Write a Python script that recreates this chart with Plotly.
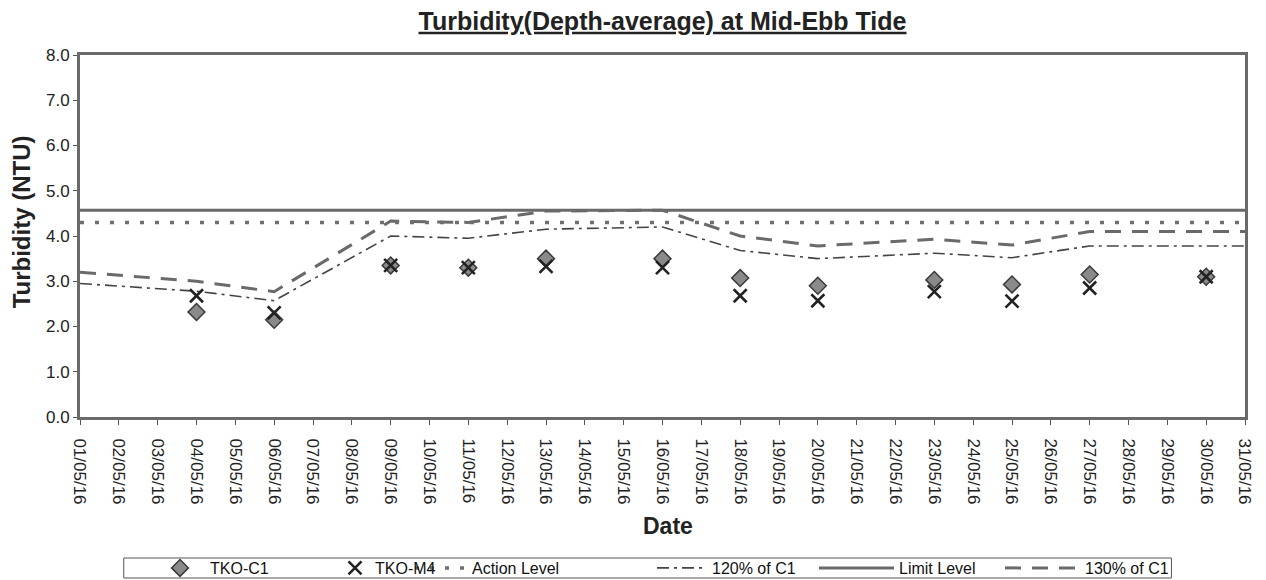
import plotly.graph_objects as go

# ---- data ----
obs_dates = ["2016-05-04", "2016-05-06", "2016-05-09", "2016-05-11", "2016-05-13", "2016-05-16",
             "2016-05-18", "2016-05-20", "2016-05-23", "2016-05-25", "2016-05-27", "2016-05-30"]
tko_c1 = [2.32, 2.15, 3.35, 3.30, 3.50, 3.50, 3.07, 2.90, 3.03, 2.93, 3.15, 3.10]
tko_m4 = [2.68, 2.30, 3.35, 3.30, 3.33, 3.30, 2.68, 2.57, 2.77, 2.56, 2.85, 3.10]

line_dates = ["2016-05-01"] + obs_dates + ["2016-05-31"]
pct120_c1 = [2.95, 2.78, 2.57, 4.00, 3.95, 4.15, 4.20, 3.68, 3.50, 3.62, 3.52, 3.78, 3.78, 3.78]
pct130_c1 = [3.20, 3.00, 2.77, 4.33, 4.30, 4.55, 4.57, 4.00, 3.78, 3.93, 3.80, 4.10, 4.10, 4.10]

level_dates = ["2016-05-01", "2016-05-31"]
action_level = [4.3, 4.3]
limit_level = [4.57, 4.57]

title_text = "Turbidity(Depth-average) at Mid-Ebb Tide"
y_title = "Turbidity (NTU)"
x_title = "Date"

FONT = "Liberation Sans, Arial, sans-serif"

fig = go.Figure()

fig.add_trace(go.Scatter(
    x=line_dates, y=pct120_c1, mode="lines", name="120% of C1", legend="legend4",
    line=dict(color="#444444", width=1.6, dash="12px,5px,3px,5px")))
fig.add_trace(go.Scatter(
    x=line_dates, y=pct130_c1, mode="lines", name="130% of C1", legend="legend6",
    line=dict(color="#6a6a6a", width=3, dash="16px,11px")))
fig.add_trace(go.Scatter(
    x=level_dates, y=action_level, mode="lines", name="Action Level", legend="legend3",
    line=dict(color="#6f6f6f", width=3.5, dash="4px,11px")))
fig.add_trace(go.Scatter(
    x=level_dates, y=limit_level, mode="lines", name="Limit Level", legend="legend5",
    line=dict(color="#6a6a6a", width=3)))
fig.add_trace(go.Scatter(
    x=obs_dates, y=tko_c1, mode="markers", name="TKO-C1", legend="legend", showlegend=True,
    marker=dict(symbol="diamond", size=13, color="#8a8a8a", line=dict(color="#3a3a3a", width=1.5))))
fig.add_trace(go.Scatter(
    x=obs_dates, y=tko_m4, mode="markers", name="TKO-M4", legend="legend2",
    marker=dict(symbol="x-thin-open", size=13, color="#222222", line=dict(color="#222222", width=2.6))))

W, H = 1266, 580
L, R, T, B = 80, 14, 55, 163


def leg(x_px, itemwidth=30):
    return dict(
        xref="container", yref="container", x=x_px / W, y=1 - 568 / H,
        xanchor="left", yanchor="middle", orientation="h",
        bgcolor="rgba(0,0,0,0)", borderwidth=0, itemwidth=itemwidth,
        font=dict(family=FONT, size=16, color="#111111"),
    )


def px_to_paper_x(px):
    return (px - L) / (W - L - R)


def px_to_paper_y(py):
    return (H - B - py) / (H - T - B)


fig.update_layout(
    width=W, height=H,
    showlegend=True,
    margin=dict(l=L, r=R, t=T, b=B, pad=0),
    paper_bgcolor="white", plot_bgcolor="white",
    font=dict(family=FONT, color="#111111"),
    title=dict(
        text="<b>" + title_text + "</b>",
        font=dict(family=FONT, size=25, color="#222222", lineposition="under"),
        xref="paper", x=0.5, xanchor="center",
        yref="container", y=1 - 21 / H, yanchor="middle"),
    legend=leg(150, 50),
    legend2=leg(335),
    legend3=leg(410, 52),
    legend4=leg(652, 50),
    legend5=leg(814, 75),
    legend6=leg(1000, 75),
    shapes=[dict(
        type="rect", xref="paper", yref="paper",
        x0=px_to_paper_x(124), x1=px_to_paper_x(1178),
        y0=px_to_paper_y(578), y1=px_to_paper_y(558),
        line=dict(color="#555555", width=1), fillcolor="rgba(0,0,0,0)", layer="above")],
    annotations=[
        dict(text="<b>" + y_title + "</b>", xref="paper", yref="paper",
             x=px_to_paper_x(21), y=px_to_paper_y(222), xanchor="center", yanchor="middle",
             textangle=-90, showarrow=False, font=dict(family=FONT, size=24, color="#222222")),
        dict(text="<b>" + x_title + "</b>", xref="paper", yref="paper",
             x=px_to_paper_x(672), y=px_to_paper_y(526), xanchor="center", yanchor="middle",
             showarrow=False, font=dict(family=FONT, size=23, color="#222222")),
    ],
    xaxis=dict(
        type="date", range=["2016-05-01", "2016-05-31"],
        tick0="2016-05-01", dtick=86400000, tickformat="%d/%m/%y", tickangle=90,
        tickfont=dict(family=FONT, size=17, color="#222222"),
        ticks="outside", ticklen=5, tickwidth=1, tickcolor="#555555", ticklabelstandoff=10,
        showline=True, linecolor="#6a6a6a", linewidth=3, mirror=True,
        showgrid=False, zeroline=False,
    ),
    yaxis=dict(
        range=[0, 8], dtick=1, tickformat=".1f",
        tickfont=dict(family=FONT, size=17, color="#222222"),
        ticks="outside", ticklen=4, tickwidth=1, tickcolor="#555555",
        showline=True, linecolor="#6a6a6a", linewidth=3, mirror=True,
        showgrid=False, zeroline=False,
    ),
)

fig.write_html(
    "out.html",
    config={"displayModeBar": False},
    post_script="document.body.style.margin='0';document.body.style.overflow='hidden';",
)
